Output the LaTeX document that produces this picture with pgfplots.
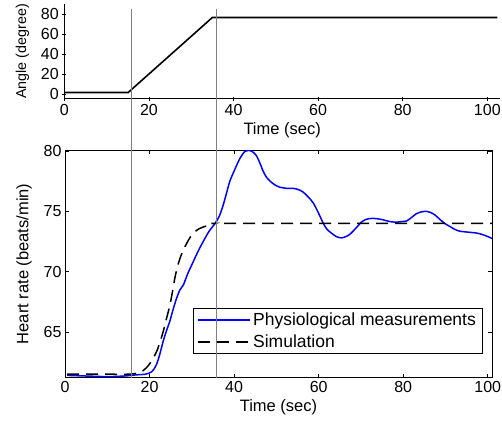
\documentclass[border=0pt]{standalone}
\usepackage{fontspec}
\setmainfont{Liberation Sans}
\usepackage{pgfplots}
\pgfplotsset{compat=1.18}
\begin{document}
\begin{tikzpicture}
\useasboundingbox (-65pt,-46.3pt) rectangle (437pt,377.7pt);
\pgfplotsset{
  every axis/.append style={
    scale only axis,
    /pgf/number format/assume math mode=true,
    tick label style={font=\fontsize{16}{19}\selectfont},
    label style={font=\fontsize{16.5}{19}\selectfont},
    ylabel style={yshift=5pt},
    axis line style={line width=0.6pt},
    major tick length=4pt,
    tick style={line width=0.6pt, black},
  }
}
% angle
\begin{axis}[
    at={(-0.7pt,279pt)}, anchor=south west,
    width=435.7pt, height=94.7pt,
    axis lines=left, axis line style={-},
    xmin=0, xmax=103, ymin=-4.7, ymax=90,
    xtick={0,20,...,100}, ytick={0,20,...,80},
    xlabel={Time (sec)},
    ylabel={\fontsize{14.3}{17}\selectfont Angle (degree)},
]
\addplot[black, line width=1.6pt] coordinates {(0,1.5) (15.1,1.5) (35,76.5) (102.4,76.5)};
\coordinate (t1) at (axis cs:15.75,84.7);
\coordinate (t2) at (axis cs:35.9,84.7);
\end{axis}
% heart rate
\begin{axis}[
    at={(0pt,0pt)}, anchor=south west,
    width=427pt, height=227.7pt,
    xmin=0, xmax=101, ymin=61.21, ymax=80.08,
    xtick={0,20,...,100}, ytick={65,70,75,80},
    xlabel={Time (sec)}, ylabel={Heart rate (beats/min)},
    legend image code/.code={\draw[#1] (0pt,0pt) -- (52pt,0pt);},
    legend style={at={(0.977,0.107)}, anchor=south east, draw=black,
        line width=0.6pt, inner xsep=4pt, inner ysep=2pt, row sep=4pt,
        font=\fontsize{17.5}{21}\selectfont, cells={anchor=west}},
]
\addplot[blue, line width=1.5pt, smooth] coordinates {
(0.5,61.4) (5,61.35) (10,61.3) (14,61.35) (17,61.45) (19,61.5) (20.5,61.7)
(21.5,62.2) (22.3,63.0) (23.2,64.2) (24.0,65.1) (24.8,65.9) (25.6,66.9)
(26.4,67.8) (27.2,68.5) (28,68.9) (29,69.8) (30.3,70.8) (31.5,71.7)
(32.7,72.5) (34,73.3) (35.5,74.0) (36.5,74.6) (37.4,75.5) (38.2,76.5)
(39,77.5) (40.2,78.5) (41.4,79.4) (42.5,79.95) (43.3,80.05) (44.3,79.95)
(45.3,79.6) (46.1,79.0) (46.9,78.3) (47.7,77.8) (48.5,77.5) (49.6,77.2)
(50.8,77.0) (52.5,76.9) (54,76.9) (55.2,76.8) (56.3,76.6) (57.5,76.2)
(58.7,75.7) (59.9,74.9) (61.1,74.0) (62,73.5) (63,73.2) (64.2,72.9)
(65.4,72.8) (66.4,72.9) (67.4,73.1) (68.8,73.6) (70.1,74.1) (71,74.3)
(72.1,74.4) (73.5,74.4) (75.2,74.3) (76.8,74.15) (78.4,74.1) (79.6,74.15)
(80.8,74.2) (82,74.5) (83.1,74.8) (84.3,74.95) (85.5,75.0) (86.5,74.9)
(87.5,74.7) (88.6,74.35) (89.8,74.0) (91,73.75) (92.2,73.5) (93.4,73.35)
(94.6,73.3) (96,73.25) (97.3,73.2) (98.5,73.1) (99.7,72.95) (101,72.75)
};
\addlegendentry{Physiological measurements}
\addplot[black, line width=1.5pt, dash pattern=on 12pt off 7pt, smooth] coordinates {
(0.5,61.5) (5,61.5) (10,61.5) (15,61.5) (17.3,61.6) (18.5,61.8) (19.3,62.05)
(20.5,62.6) (21.7,63.4) (22.5,64.2) (23.2,65.0) (24.0,66.1) (24.8,67.2)
(25.4,68.3) (26.0,69.5) (26.6,70.4) (27.2,71.1) (28.0,71.8) (28.8,72.35)
(29.7,72.9) (30.7,73.3) (31.7,73.55) (32.7,73.7) (34,73.85) (35.5,74.0)
(40,74) (101,74)
};
\addlegendentry{Simulation}
\coordinate (b1) at (axis cs:15.75,61.21);
\end{axis}
\draw[black!50, line width=0.7pt] (t1) -- (t1 |- b1);
\draw[black!50, line width=0.7pt] (t2) -- (t2 |- b1);
\end{tikzpicture}
\end{document}
